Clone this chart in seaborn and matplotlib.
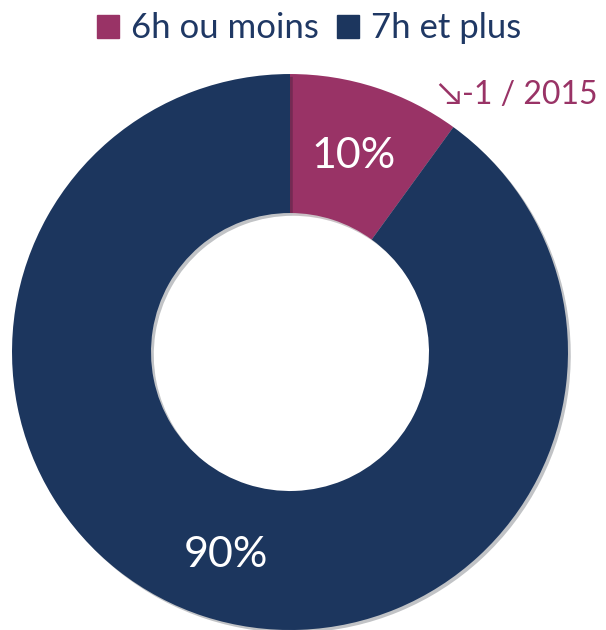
import matplotlib
matplotlib.use('Agg')
import matplotlib.pyplot as plt
import matplotlib.patches as mpatches
import matplotlib.patheffects as pe
import seaborn as sns

categories = ['6h ou moins', '7h et plus']
values = [10, 90]
labels = ['10%', '90%']
note = '\u2198-1 / 2015'

sns.set_theme(style='white')
plt.rcParams['font.family'] = ['Lato', 'DejaVu Sans']

colors = ['#993366', '#1c365e']
navy_text = '#1f3864'

fig = plt.figure(figsize=(6.06, 6.30), dpi=100)
ax = fig.add_axes([0.0198, 0.0, 0.9175, 0.8825])

wedges, _ = ax.pie(values, colors=colors, startangle=90, counterclock=False,
                   radius=1.0, wedgeprops=dict(width=0.5, linewidth=0))
for w in wedges:
    w.set_path_effects([pe.SimplePatchShadow(offset=(2, -2), alpha=0.25), pe.Normal()])
ax.set_aspect('equal')
ax.set_xlim(-1, 1)
ax.set_ylim(-1, 1)
ax.axis('off')

# data labels
ax.text(0.23, 0.705, labels[0], color='white', fontsize=31, ha='center', va='center')
ax.text(-0.23, -0.73, labels[1], color='white', fontsize=31, ha='center', va='center')
ax.text(0.82, 0.925, note, color='#993366', fontsize=23, ha='center', va='center')

handles = [mpatches.Patch(color=c, label=l) for c, l in zip(colors, categories)]
leg = fig.legend(handles=handles, loc='upper center', bbox_to_anchor=(0.51, 1.03), ncol=2,
                 frameon=False, fontsize=25, handlelength=0.65, handleheight=0.65,
                 handletextpad=0.35, columnspacing=0.5)
for t in leg.get_texts():
    t.set_color(navy_text)

fig.savefig('out.png', dpi=100)
